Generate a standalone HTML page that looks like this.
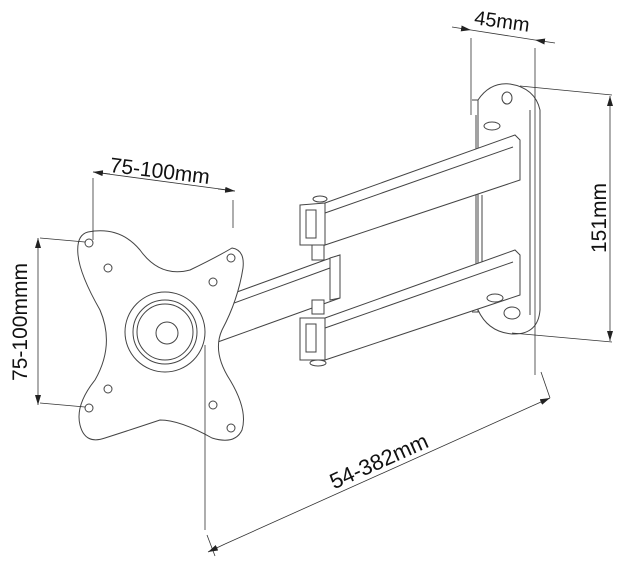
<!DOCTYPE html>
<html><head><meta charset="utf-8"><style>
html,body{margin:0;padding:0;background:#fff;}
svg{display:block}
text{font-family:"Liberation Sans",Arial,sans-serif;fill:#111}
</style></head><body>
<svg width="624" height="567" viewBox="0 0 624 567" xmlns="http://www.w3.org/2000/svg">
<defs>
<marker id="ar" markerWidth="10" markerHeight="6" refX="10" refY="3" orient="auto" markerUnits="userSpaceOnUse">
<path d="M0,0 L10,3 L0,6 z" fill="#222"/></marker>
</defs>
<g fill="none" stroke="#444" stroke-width="1">
<!-- wall plate -->
<path d="M478,100 Q490,82 510,84 Q535,88 540,110 L540,310 Q538,335 512,334 Q488,332 478,310 Z" fill="#fff"/>
<path d="M472,100 L478,100 L478,312 L472,312" />
<path d="M530,110 L530,315" />
<ellipse cx="507" cy="98" rx="5" ry="6"/>
<ellipse cx="512" cy="313" rx="8" ry="6"/>
<path d="M476,115 L476,300 M482,195 L482,300"/>
<!-- upper arm -->
<path d="M325,203 L515,135 L520,140 L520,180 L325,245 Z" fill="#fff"/>
<path d="M325,213 L513,147"/>
<path d="M300,205 L325,203 L325,245 L300,245 Z" fill="#fff"/>
<rect x="306" y="210" width="10" height="28"/>
<ellipse cx="320" cy="199" rx="7" ry="3" fill="#fff"/>
<ellipse cx="492" cy="126" rx="8" ry="4" fill="#fff"/>
<!-- middle arm -->
<path d="M215,300 L325,260 L340,255 L340,298 L215,343 Z" fill="#fff"/>
<path d="M215,310 L330,268"/>
<path d="M330,258 L340,255 L340,298 L330,300 Z" fill="#fff"/>
<rect x="312" y="245" width="12" height="15" fill="#fff"/>
<rect x="312" y="300" width="12" height="14" fill="#fff"/>
<!-- lower arm -->
<path d="M325,318 L515,250 L520,255 L520,295 L325,360 Z" fill="#fff"/>
<path d="M325,328 L513,262"/>
<path d="M300,318 L325,318 L325,360 L300,360 Z" fill="#fff"/>
<rect x="306" y="324" width="10" height="28"/>
<ellipse cx="318" cy="363" rx="8" ry="3" fill="#fff"/>
<ellipse cx="495" cy="298" rx="8" ry="4" fill="#fff"/>
<!-- monitor plate -->
<path d="M88,232 Q120,226 140,250 Q160,278 190,270 Q215,258 232,248 Q245,250 243,268 Q238,300 222,330 Q212,352 230,380 Q248,410 242,430 Q235,445 212,438 Q180,420 160,420 Q130,430 105,438 Q85,445 80,425 Q75,405 95,380 Q115,345 100,310 Q80,275 78,255 Q76,235 88,232 Z" fill="#fff"/>
<circle cx="89" cy="243" r="4"/><circle cx="231" cy="258" r="4"/>
<circle cx="108" cy="268" r="4"/><circle cx="213" cy="282" r="4"/>
<circle cx="108" cy="389" r="4"/><circle cx="213" cy="405" r="4"/>
<circle cx="89" cy="408" r="4"/><circle cx="231" cy="428" r="4"/>
<circle cx="165" cy="332" r="40"/>
<circle cx="165" cy="332" r="32"/>
<circle cx="165" cy="332" r="28"/>
<circle cx="167" cy="333" r="11"/>
</g>
<!-- dimension lines -->
<g fill="none" stroke="#333" stroke-width="0.8">
<line x1="471" y1="38" x2="471" y2="115"/>
<line x1="535" y1="48" x2="535" y2="375"/>
<line x1="452" y1="27" x2="471" y2="30" marker-end="url(#ar)"/>
<line x1="555" y1="43" x2="535" y2="40" marker-end="url(#ar)"/>
<line x1="471" y1="30" x2="535" y2="40"/>
<line x1="520" y1="86" x2="612" y2="95"/>
<line x1="512" y1="333" x2="612" y2="342"/>
<line x1="610" y1="120" x2="610" y2="96" marker-end="url(#ar)"/>
<line x1="610" y1="320" x2="610" y2="341" marker-end="url(#ar)"/>
<line x1="610" y1="120" x2="610" y2="320"/>
<line x1="93" y1="178" x2="93" y2="240"/>
<line x1="233" y1="200" x2="233" y2="228"/>
<line x1="93" y1="172" x2="235" y2="191"/>
<line x1="110" y1="174" x2="93" y2="172" marker-end="url(#ar)"/>
<line x1="218" y1="189" x2="235" y2="191" marker-end="url(#ar)"/>
<line x1="40" y1="238" x2="85" y2="242"/>
<line x1="40" y1="403" x2="85" y2="407"/>
<line x1="38" y1="255" x2="38" y2="238" marker-end="url(#ar)"/>
<line x1="38" y1="390" x2="38" y2="405" marker-end="url(#ar)"/>
<line x1="38" y1="255" x2="38" y2="390"/>
<line x1="205" y1="345" x2="205" y2="530"/>
<line x1="207" y1="535" x2="215" y2="556"/>
<line x1="541" y1="372" x2="550" y2="398"/>
<line x1="225" y1="544" x2="208" y2="552" marker-end="url(#ar)"/>
<line x1="532" y1="406" x2="550" y2="398" marker-end="url(#ar)"/>
<line x1="225" y1="544" x2="532" y2="406"/>
</g>
<text x="502" y="28" font-size="20" text-anchor="middle" transform="rotate(8 502 22)">45mm</text>
<text x="0" y="0" font-size="21" text-anchor="middle" transform="translate(606 218) rotate(-90)">151mm</text>
<text x="160" y="178" font-size="21" text-anchor="middle" transform="rotate(7 160 170)">75-100mm</text>
<text x="0" y="0" font-size="21" text-anchor="middle" transform="translate(27 322) rotate(-90)">75-100mmm</text>
<text x="0" y="0" font-size="22" text-anchor="middle" transform="translate(382 468) rotate(-24.2)">54-382mm</text>
</svg>
</body></html>
